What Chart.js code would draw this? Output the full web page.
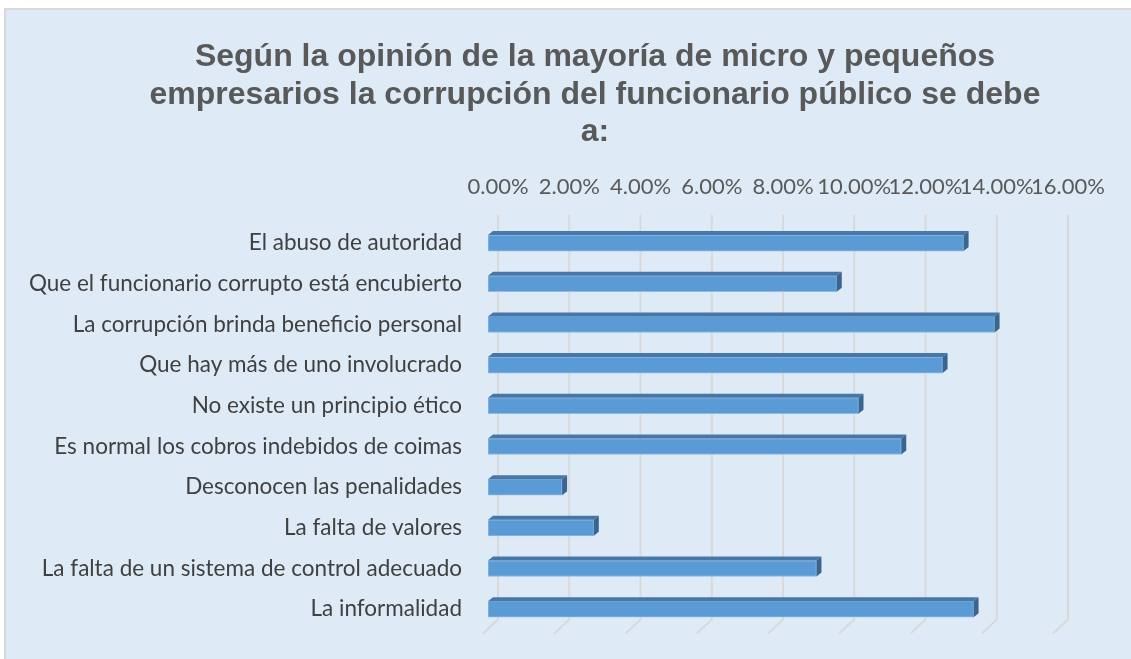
<!DOCTYPE html>
<html>
<head>
<meta charset="utf-8">
<script src="https://cdn.jsdelivr.net/npm/chart.js@4.4.1/dist/chart.umd.min.js"></script>
<style>
  html, body { margin: 0; padding: 0; background: #fff; overflow: hidden; }
  #box { position: absolute; left: 4px; top: 8px; width: 1178px; height: 659px;
         background: #DEEBF7; border-top: 2px solid #D9D9D9; border-left: 2px solid #D9D9D9; }
</style>
</head>
<body>
<div id="box"><canvas id="myChart"></canvas></div>
<script>
// categorias y porcentajes (de arriba hacia abajo)
const causas = [
    'El abuso de autoridad',
    'Que el funcionario corrupto está encubierto',
    'La corrupción brinda beneficio personal',
    'Que hay más de uno involucrado',
    'No existe un principio ético',
    'Es normal los cobros indebidos de coimas',
    'Desconocen las penalidades',
    'La falta de valores',
    'La falta de un sistema de control adecuado',
    'La informalidad'
];
const porcentajes = [13.35, 9.79, 14.22, 12.76, 10.40, 11.60, 2.08, 2.97, 9.22, 13.63];
const titulo = [
    'Según la opinión de la mayoría de micro y pequeños',
    'empresarios la corrupción del funcionario público se debe',
    'a:'
];

// efecto 3D: cara superior y lateral de cada barra, rejilla en el plano de fondo
const efecto3D = {
    id: 'efecto3D',
    beforeDatasetsDraw(chart) {
        const ctx = chart.ctx;
        const area = chart.chartArea;
        const x = chart.scales.x;
        ctx.save();
        ctx.strokeStyle = '#D9D9D9';
        ctx.lineWidth = 2;
        x.ticks.forEach(t => {
            const px = x.getPixelForValue(t.value);
            ctx.beginPath();
            ctx.moveTo(px + 10, area.top - 8);
            ctx.lineTo(px + 10, area.bottom - 10);
            ctx.lineTo(px - 5, area.bottom + 4);
            ctx.stroke();
        });
        ctx.restore();
    },
    afterDatasetsDraw(chart) {
        const ctx = chart.ctx;
        const dx = 5, dy = 4;
        ctx.save();
        chart.getDatasetMeta(0).data.forEach(bar => {
            const p = bar.getProps(['x', 'y', 'base', 'height'], true);
            const top = p.y - p.height / 2, bot = p.y + p.height / 2;
            ctx.fillStyle = '#4677A8';
            ctx.beginPath();
            ctx.moveTo(p.base, top);
            ctx.lineTo(p.base + dx, top - dy);
            ctx.lineTo(p.x + dx, top - dy);
            ctx.lineTo(p.x, top);
            ctx.closePath();
            ctx.fill();
            ctx.fillStyle = '#3A6591';
            ctx.beginPath();
            ctx.moveTo(p.x, top);
            ctx.lineTo(p.x + dx, top - dy);
            ctx.lineTo(p.x + dx, bot - dy);
            ctx.lineTo(p.x, bot);
            ctx.closePath();
            ctx.fill();
        });
        ctx.restore();
    }
};

var ctx = document.getElementById('myChart').getContext('2d');
var chart = new Chart(ctx, {
    type: 'bar',
    data: {
        labels: causas,
        datasets: [{
            data: porcentajes,
            backgroundColor: '#5B9BD5',
            borderColor: '#8DB9E4',
            borderWidth: 1,
            borderSkipped: false,
            barThickness: 16
        }]
    },
    plugins: [efecto3D],
    options: {
        indexAxis: 'y',
        responsive: true,
        maintainAspectRatio: false,
        animation: false,
        layout: { padding: 0 },
        plugins: {
            legend: { display: false },
            tooltip: { enabled: false },
            title: {
                display: true,
                text: titulo,
                color: '#595959',
                font: { family: 'Liberation Sans', size: 32, weight: 'bold', lineHeight: 1.16 },
                padding: { top: 29, bottom: 0 }
            }
        },
        scales: {
            x: {
                position: 'top',
                min: 0,
                max: 16,
                grid: { display: false, drawTicks: false },
                border: { display: false },
                ticks: {
                    stepSize: 2,
                    padding: 23,
                    labelOffset: 10,
                    maxRotation: 0,
                    autoSkip: false,
                    color: '#595959',
                    font: { family: 'Lato', size: 22 },
                    callback: v => v.toFixed(2) + '%'
                }
            },
            y: {
                grid: { display: false, drawTicks: false },
                border: { display: false },
                afterFit: scale => { scale.width = 482; },
                ticks: {
                    padding: 26,
                    autoSkip: false,
                    color: '#404040',
                    font: { family: 'Lato', size: 22.5 }
                }
            },
            // eje vacío a la derecha: deja el margen derecho y mantiene el título centrado
            y2: {
                type: 'category',
                position: 'right',
                grid: { display: false, drawTicks: false },
                border: { display: false },
                ticks: { display: false },
                afterFit: scale => { scale.width = 126; }
            }
        }
    }
});
</script>
</body>
</html>
